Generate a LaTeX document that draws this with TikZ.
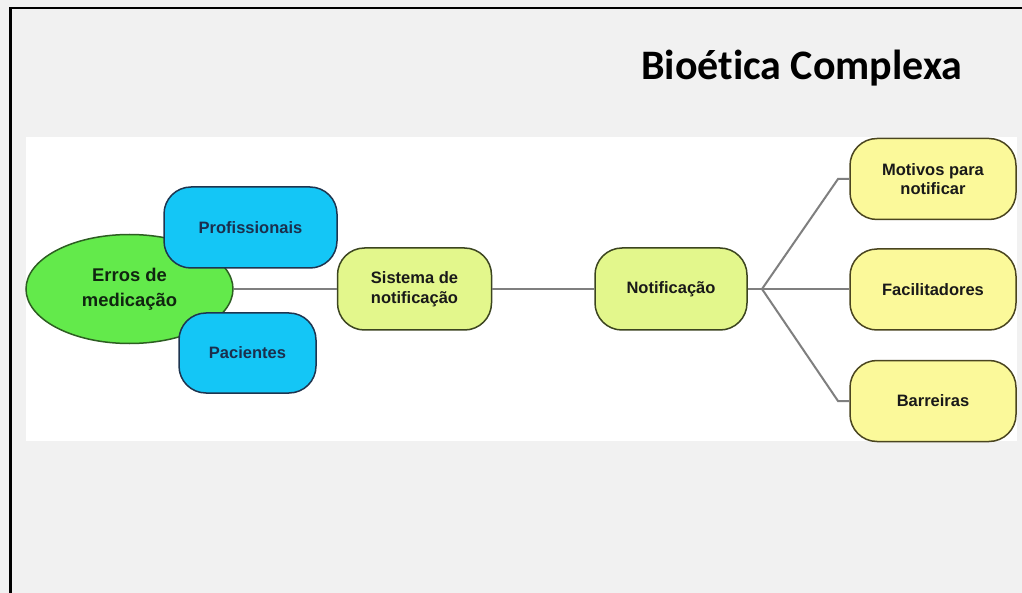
\documentclass[tikz,border=0pt]{standalone}
\usepackage{fontspec}
\setmainfont{Liberation Sans}
\newfontfamily\titlefont[Ligatures=NoCommon]{Carlito}
\usetikzlibrary{shapes.geometric}

\definecolor{pagegray}{HTML}{F1F1F1}
\definecolor{bluefill}{HTML}{14C6F6}
\definecolor{blueline}{HTML}{1E3550}
\definecolor{bluetext}{HTML}{1B2F4D}
\definecolor{greenfill}{HTML}{63EA4B}
\definecolor{greenline}{HTML}{2D5E22}
\definecolor{greentext}{HTML}{102510}
\definecolor{limefill}{HTML}{E3F78C}
\definecolor{limeline}{HTML}{3C4520}
\definecolor{yellowfill}{HTML}{FBF99A}
\definecolor{yellowline}{HTML}{4A4520}
\definecolor{linkgray}{HTML}{7F7F7F}

\tikzset{
  box/.style={rounded corners=27pt, draw, line width=1.5pt, inner sep=0pt,
    align=center, font=\bfseries\fontsize{16.5}{19.5}\selectfont},
  bluebox/.style={box, fill=bluefill, draw=blueline, text=bluetext},
  limebox/.style={box, fill=limefill, draw=limeline, text=black!90,
    minimum width=154pt, minimum height=82pt},
  yellowbox/.style={box, fill=yellowfill, draw=yellowline, text=black!90,
    minimum width=166pt, minimum height=81pt},
  link/.style={draw=linkgray, line width=2pt},
}

\begin{document}
\begin{tikzpicture}[x=1pt,y=-1pt]
  \useasboundingbox (0,0) rectangle (1022,593);
  % page background, frame and white panel
  \fill[pagegray] (0,0) rectangle (1022,593);
  \draw[line width=2.6pt] (10.7,593) -- (10.7,8) -- (1022,8);
  \fill[white] (26,137) rectangle (1017,441);

  % title
  \node[anchor=base west, inner sep=0pt,
        font=\titlefont\bfseries\fontsize{42}{50}\selectfont] (title)
    at (641,80) {Bioética Complexa};

  % central ellipse with its two attached boxes
  \node[ellipse, draw=greenline, line width=1.5pt, fill=greenfill,
        minimum width=207pt, minimum height=109pt, inner sep=0pt,
        align=center, text=greentext,
        font=\bfseries\fontsize{18.4}{24.5}\selectfont] (erros)
    at (129.5,289) {Erros de\\medicação};
  \node[bluebox, minimum width=173pt, minimum height=81pt] (prof)
    at (250.5,227.5) {Profissionais};
  \node[bluebox, minimum width=137pt, minimum height=80pt] (pac)
    at (247.5,353) {Pacientes};

  % chain of notification nodes
  \node[limebox] (sist) at (414.5,289) {Sistema de\\notificação};
  \node[limebox, minimum width=152pt] (notif) at (671,289) {Notificação};

  % branch targets
  \node[yellowbox, font=\bfseries\fontsize{16.5}{18.5}\selectfont] (motivos)
    at (933,179) {Motivos para\\notificar};
  \node[yellowbox] (facil) at (933,289.5) {Facilitadores};
  \node[yellowbox] (barr) at (933,401) {Barreiras};

  % connectors
  \coordinate (fork) at (762,289);
  \coordinate (upbend) at (838,179);
  \coordinate (downbend) at (838,401);
  \draw[link] (erros.east) -- (sist.west);
  \draw[link] (sist.east) -- (notif.west);
  \draw[link] (notif.east) -- (fork);
  \draw[link] (fork) -- (upbend) -- (motivos.west);
  \draw[link] (fork) -- (facil.west |- fork);
  \draw[link] (fork) -- (downbend) -- (barr.west);
\end{tikzpicture}
\end{document}
